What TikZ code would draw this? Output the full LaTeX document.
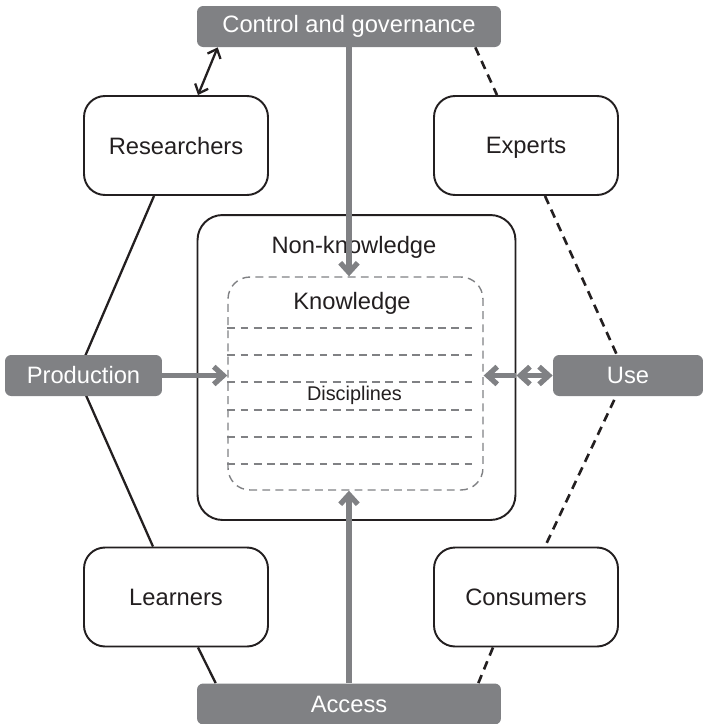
\documentclass[tikz,border=0pt]{standalone}
\usepackage{fontspec}
\setmainfont{Liberation Sans}
\usetikzlibrary{arrows.meta,calc,backgrounds}
\definecolor{boxgray}{RGB}{128,129,132}
\definecolor{inkgray}{RGB}{35,31,32}

\begin{document}
\begin{tikzpicture}[x=0.02cm, y=-0.02cm,
         font=\fontsize{13.5}{16}\selectfont, text=inkgray]
  \tikzstyle{grey}=[fill=boxgray, text=white, rounded corners=3.5pt,
                    minimum height=0.82cm, inner sep=0pt]
  \tikzstyle{actor}=[draw=inkgray, line width=1.1pt, fill=white, rounded corners=0.42cm,
                     minimum width=3.68cm, minimum height=1.98cm, text depth=-2pt]
  \tikzstyle{outerbox}=[draw=inkgray, line width=1.1pt, rounded corners=0.5cm,
                        minimum width=6.36cm, minimum height=6.1cm]
  \tikzstyle{innerbox}=[draw=boxgray, line width=0.8pt, dash pattern=on 4.5pt off 3pt,
                        rounded corners=0.44cm, minimum width=5.1cm, minimum height=4.26cm]
  \tikzstyle{rowline}=[draw=boxgray, line width=0.8pt, dash pattern=on 4.5pt off 3pt]
  \tikzstyle{link}=[draw=inkgray, line width=1.3pt]
  \tikzstyle{dashy}=[link, line width=1.5pt, dash pattern=on 5pt off 3.5pt]
  \tikzstyle{flow}=[draw=boxgray, line width=3pt, >={Straight Barb[length=5.5pt,width=10pt]}]
  \tikzstyle{thinarr}=[link, >={Straight Barb[length=4.5pt,width=8pt]}]

  \useasboundingbox (0,0) rectangle (703,724);

  % grey boxes
  \node[grey, minimum width=6.08cm] (gCtrl) at (349,26.5) {Control and governance};
  \node[grey, minimum width=6.08cm] (gAcc) at (349,704) {Access};
  \node[grey, minimum width=3.14cm] (gProd) at (83.5,375.5) {Production};
  \node[grey, minimum width=3cm] (gUse) at (628,375.5) {Use};

  % actors
  \node[actor] (wRes) at (176,145.5) {Researchers};
  \node[actor] (wExp) at (526,145.5) {Experts};
  \node[actor] (wLearn) at (176,597) {Learners};
  \node[actor] (wCons) at (526,597) {Consumers};

  % knowledge boxes
  \node[outerbox] (nonK) at (356.5,367.5) {};
  \node (nonKt) at (354,247) {Non-knowledge};
  \node[innerbox] (know) at (355.5,383.5) {};
  \node (knowT) at (352,303) {Knowledge};
  \node[font=\fontsize{11.3}{13}\selectfont] (disc) at (354.5,395) {Disciplines};
  \foreach \y in {328,355,382,410,437,464}
    \draw[rowline] (know.west |- 0,\y) -- (477,\y);

  % hexagon
  \begin{scope}[on background layer]
  \coordinate (pL) at (77,375);
  \coordinate (pR) at (626,375);
  \draw[link] ($(wRes.south)+(-22,0)$) -- (pL) -- ($(wLearn.north)+(-23,0)$);
  \draw[link] ($(wLearn.south)+(22,0)$) -- ($(gAcc.north west)+(19,0)$);
  \draw[dashy] ($(gCtrl.south east)+(-26,0)$) -- ($(wExp.north)+(-29,0)$);
  \draw[dashy] ($(wExp.south)+(19,0)$) -- (pR) -- ($(wCons.north)+(19,0)$);
  \draw[dashy] ($(wCons.south)+(-33,0)$) -- ($(gAcc.north east)+(-23,0)$);
  \end{scope}

  \draw[thinarr,<->] ($(wRes.north)+(22,0)$) -- ($(gCtrl.south west)+(21,0)$);

  % flows
  \draw[flow,->] (gCtrl.south) -- (gCtrl.south |- know.north);
  \draw[flow,->] (gAcc.north) -- (gAcc.north |- know.south);
  \draw[flow,->] (gProd.east) -- (know.west |- gProd.east);
  \draw[flow,->] (nonK.east |- gUse.west) -- (know.east |- gUse.west);
  \draw[flow,<->] (gUse.west) -- (nonK.east |- gUse.west);
\end{tikzpicture}
\end{document}
